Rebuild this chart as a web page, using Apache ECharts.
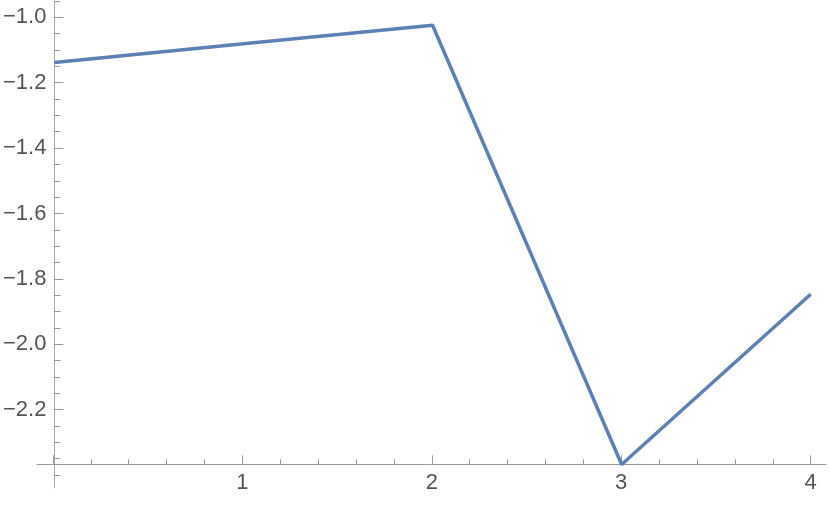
<!DOCTYPE html>
<html>
<head>
<meta charset="utf-8">
<script src="https://cdn.jsdelivr.net/npm/echarts@6/dist/echarts.min.js"></script>
<style>
html, body { margin: 0; padding: 0; background: #fff; }
#chart { width: 830px; height: 505px; }
</style>
</head>
<body>
<div id="chart"></div>
<script>
// values
const xValues = [0, 1, 2, 3, 4];
const yValues = [-1.138, -1.081, -1.024, -2.368, -1.847];

// tick positions
const xMajorTicks = [0, 1, 2, 3, 4];
const xLabels = [1, 2, 3, 4];
const xMinorTicks = [0.2, 0.4, 0.6, 0.8, 1.2, 1.4, 1.6, 1.8, 2.2, 2.4, 2.6, 2.8, 3.2, 3.4, 3.6, 3.8];
const yMajorTicks = [-1.0, -1.2, -1.4, -1.6, -1.8, -2.0, -2.2];
const yMinorTicks = [-0.95, -1.05, -1.1, -1.15, -1.25, -1.3, -1.35, -1.45, -1.5, -1.55,
  -1.65, -1.7, -1.75, -1.85, -1.9, -1.95, -2.05, -2.1, -2.15, -2.25, -2.3, -2.35, -2.4];

const font = '"Liberation Sans", Arial, sans-serif';
const textColor = '#555';
const tickColor = '#999';

const chart = echarts.init(document.getElementById('chart'));

const option = {
  animation: false,
  grid: [
    // plot area with the y axis
    { left: 53, right: 19.3, top: 1, bottom: 17 },
    // strip used only for the x axis, its bottom sits where the axis crosses
    { left: 37, right: 4, top: 400, bottom: 40.7 }
  ],
  xAxis: [
    { gridIndex: 0, type: 'value', min: 0, max: 4, show: false },
    {
      gridIndex: 1, type: 'value', min: -0.084, max: 4.081, position: 'bottom',
      splitLine: { show: false },
      axisLine: { show: true, lineStyle: { color: tickColor, width: 1 } },
      axisTick: { show: true, inside: true, length: 9, customValues: xMajorTicks,
        lineStyle: { color: tickColor } },
      axisLabel: { customValues: xLabels, margin: 8, color: textColor,
        fontFamily: font, fontSize: 22 }
    },
    {
      gridIndex: 1, type: 'value', min: -0.084, max: 4.081, position: 'bottom',
      splitLine: { show: false },
      axisLine: { show: false },
      axisTick: { show: true, inside: true, length: 5, customValues: xMinorTicks,
        lineStyle: { color: tickColor } },
      axisLabel: { show: false }
    }
  ],
  yAxis: [
    {
      gridIndex: 0, type: 'value', min: -2.44, max: -0.95, position: 'left',
      splitLine: { show: false },
      axisLine: { show: true, lineStyle: { color: '#aaa', width: 1 } },
      axisTick: { show: true, inside: true, length: 9, customValues: yMajorTicks,
        lineStyle: { color: tickColor } },
      axisLabel: {
        customValues: yMajorTicks, margin: 8, color: textColor,
        fontFamily: font, fontSize: 22,
        formatter: v => v.toFixed(1).replace('-', '\u2212')
      }
    },
    {
      gridIndex: 0, type: 'value', min: -2.44, max: -0.95, position: 'left',
      splitLine: { show: false },
      axisLine: { show: false },
      axisTick: { show: true, inside: true, length: 6, customValues: yMinorTicks,
        lineStyle: { color: tickColor } },
      axisLabel: { show: false }
    },
    { gridIndex: 1, type: 'value', show: false, min: 0, max: 1 }
  ],
  series: [
    {
      type: 'line',
      xAxisIndex: 0,
      yAxisIndex: 0,
      data: xValues.map((x, i) => [x, yValues[i]]),
      showSymbol: false,
      clip: false,
      lineStyle: { color: '#5e81b5', width: 3.5 }
    }
  ]
};

chart.setOption(option);
</script>
</body>
</html>
